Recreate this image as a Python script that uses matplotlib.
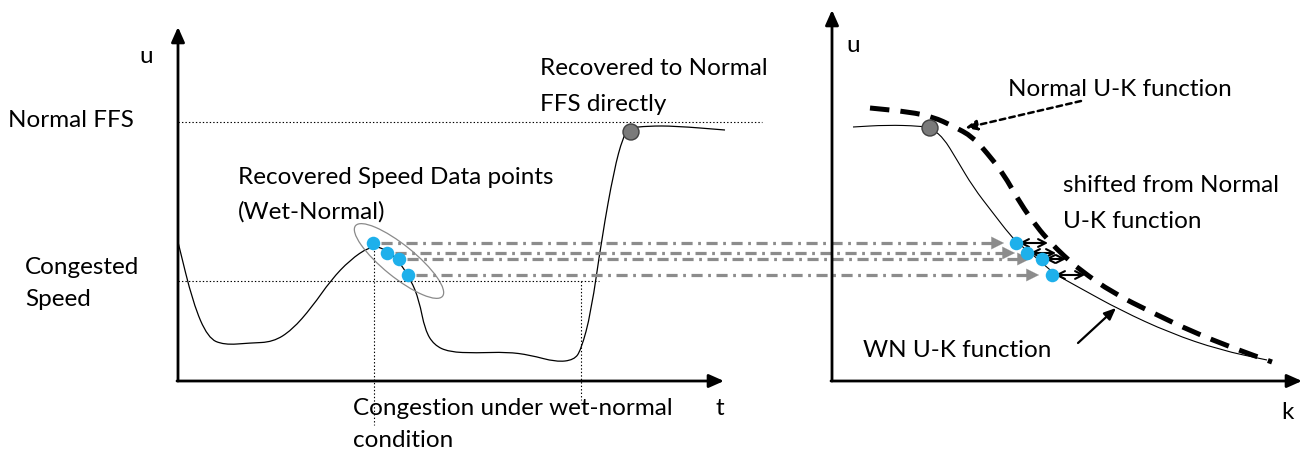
import matplotlib
matplotlib.use("Agg")
import matplotlib.pyplot as plt
from matplotlib.path import Path
from matplotlib.patches import PathPatch, Ellipse, Circle
import numpy as np

plt.rcParams['font.family'] = ['Lato', 'DejaVu Sans']
plt.rcParams['lines.scale_dashes'] = False

# ---- diagram data (pixel space of a 1314 x 455 canvas, y down) ----
# left panel: speed over time
speed_t = [178, 193, 208, 224, 250, 273, 292, 312, 331, 350, 369, 381, 396, 411,
           419, 425, 434, 449, 476, 507, 530, 556, 574, 581, 591, 602, 614, 623,
           629, 648, 675, 725]
speed_u = [242, 303, 338, 345, 343, 342, 330, 307, 280, 260, 247, 247, 257, 280,
           300, 330, 345, 352, 353, 352, 355, 362, 360, 350, 313, 237, 170, 137,
           128, 126, 126, 130]

# recovered wet-normal points (left) and their position on the U-K plane (right)
wn_left_x = [373, 387, 399, 408]
wn_y = [243, 253, 259, 275]
wn_right_x = [1016, 1027, 1042, 1052]
arrow_tip_x = [1004, 1015, 1030, 1039]
shift_end_x = [1048, 1056, 1066, 1085]

# right panel: U-K functions
normal_k = [870, 910, 933, 953, 973, 987, 1003, 1020, 1037, 1050, 1063, 1080,
            1113, 1153, 1193, 1233, 1272]
normal_u = [108, 112, 117, 126, 137, 153, 173, 203, 227, 242, 255, 270,
            293, 313, 332, 348, 362]
wn_k = [853, 887, 920, 930, 943, 957, 973, 993, 1010, 1020, 1037, 1053, 1080,
        1120, 1170, 1220, 1267]
wn_u = [127, 125, 126, 128, 137, 160, 187, 213, 235, 245, 258, 273, 288,
        310, 333, 350, 360]

ffs_level = 122
congested_level = 281

# labels: (text, x, baseline y)
labels = [
    ('u', 139, 63), ('t', 716, 415),
    ('Normal FFS', 8, 127), ('Congested', 25, 274), ('Speed', 25, 306),
    ('Recovered to Normal', 540, 75), ('FFS directly', 540, 111),
    ('Recovered Speed Data points', 238, 184), ('(Wet-Normal)', 238, 219),
    ('Congestion under wet-normal', 353, 415), ('condition', 353, 447),
    ('u', 846, 52), ('k', 1281, 419),
    ('Normal U-K function', 1008, 96),
    ('shifted from Normal', 1063, 192), ('U-K function', 1063, 228),
    ('WN U-K function', 863, 357),
]


def smooth_path(xs, ys):
    pts = np.column_stack([xs, ys]).astype(float)
    verts = [pts[0], (pts[0] + pts[1]) / 2]
    codes = [Path.MOVETO, Path.LINETO]
    for i in range(1, len(pts) - 1):
        verts += [pts[i], (pts[i] + pts[i + 1]) / 2]
        codes += [Path.CURVE3, Path.CURVE3]
    verts.append(pts[-1])
    codes.append(Path.LINETO)
    return Path(verts, codes)


fig = plt.figure(figsize=(13.14, 4.55), dpi=100)
ax = fig.add_axes([0, 0, 1, 1])
ax.set_xlim(0, 1314)
ax.set_ylim(455, 0)
ax.axis('off')

axis_kw = dict(arrowstyle='-|>,head_length=0.9,head_width=0.4', color='black', lw=2.0,
               shrinkA=0, shrinkB=0)
dotted = dict(color='black', lw=0.8, linestyle=(0, (1, 1.5)))

# === left panel: speed vs time ===
ax.annotate('', xy=(178, 27), xytext=(178, 381), arrowprops=axis_kw)
ax.annotate('', xy=(724, 381), xytext=(177, 381), arrowprops=axis_kw)

ax.plot([178, 762], [ffs_level, ffs_level], **dotted)
ax.plot([178, 599], [congested_level, congested_level], **dotted)
ax.plot([374, 374], [247, 425], **dotted)
ax.plot([581, 581], [281, 400], **dotted)

ax.add_patch(PathPatch(smooth_path(speed_t, speed_u), facecolor='none', edgecolor='black', lw=0.9))

# === right panel: U-K plane ===
ax.annotate('', xy=(832, 10), xytext=(832, 381), arrowprops=axis_kw)
ax.annotate('', xy=(1302, 381), xytext=(831, 381), arrowprops=axis_kw)

ax.add_patch(PathPatch(smooth_path(wn_k, wn_u), facecolor='none', edgecolor='black', lw=0.8))
ax.add_patch(PathPatch(smooth_path(normal_k, normal_u), facecolor='none', edgecolor='black',
                       lw=3.6, linestyle=(0, (14, 8))))

# projection of recovered points onto the U-K plane
for xl, xt, y in zip(wn_left_x, arrow_tip_x, wn_y):
    ax.plot([xl + 8, xt - 10], [y, y], color='#8c8c8c', lw=2.3, linestyle=(0, (8, 4, 2, 4)))
    ax.annotate('', xy=(xt, y), xytext=(xt - 11, y),
                arrowprops=dict(arrowstyle='-|>,head_length=0.9,head_width=0.45',
                                color='#8c8c8c', lw=0.1, shrinkA=0, shrinkB=0))

# shift between WN points and the normal function
for xr, xe, y in zip(wn_right_x, shift_end_x, wn_y):
    ax.annotate('', xy=(xe, y), xytext=(xr + 3, y),
                arrowprops=dict(arrowstyle='<->,head_length=0.55,head_width=0.28',
                                color='black', lw=1.5, shrinkA=0, shrinkB=0))

ax.add_patch(Ellipse((399, 261), 112, 32, angle=39, facecolor='none', edgecolor='#8a8a8a', lw=0.9))
ax.scatter(wn_left_x, wn_y, s=95, color='#1eb0eb', zorder=5, linewidths=0)
ax.scatter(wn_right_x, wn_y, s=95, color='#1eb0eb', zorder=5, linewidths=0)

ax.add_patch(Circle((631, 132), 8, facecolor='#7a7a7a', edgecolor='#404040', lw=1, zorder=6))
ax.add_patch(Circle((930, 128), 8, facecolor='#7a7a7a', edgecolor='#404040', lw=1, zorder=6))

# pointer arrows
ax.annotate('', xy=(965, 128), xytext=(1081, 101),
            arrowprops=dict(arrowstyle='-|>,head_length=0.7,head_width=0.3', color='black',
                            lw=1.8, linestyle=(0, (4, 3)), shrinkA=0, shrinkB=0))
ax.annotate('', xy=(1116, 308), xytext=(1078, 343),
            arrowprops=dict(arrowstyle='-|>,head_length=0.7,head_width=0.3', color='black',
                            lw=1.6, shrinkA=0, shrinkB=0))

for txt, x, y in labels:
    ax.text(x, y, txt, fontsize=17.5, va='baseline', ha='left', color='black')

fig.savefig('out.png', dpi=100)
